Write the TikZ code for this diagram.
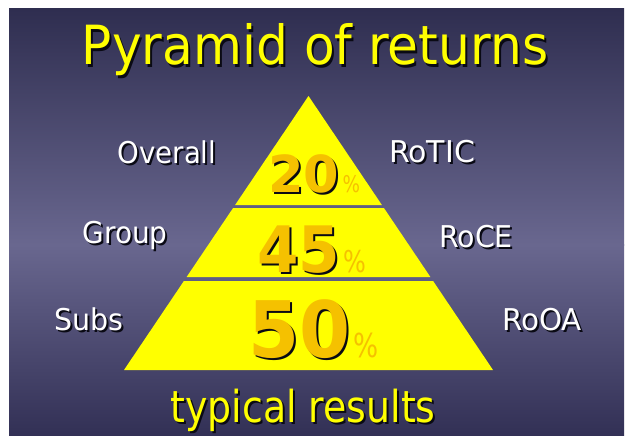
\documentclass[tikz,border=0pt]{standalone}
\usepackage{fontspec}
\setmainfont{DejaVu Sans}
\newfontfamily\boldnum{DejaVu Sans Bold}
\usepackage{graphicx}

\definecolor{bgtop}{HTML}{2F2E50}
\definecolor{bgmid}{HTML}{69678F}
\definecolor{bgbot}{HTML}{323055}
\definecolor{pyryellow}{HTML}{FFFF00}
\definecolor{titleyellow}{HTML}{FFFF00}
\definecolor{numorange}{HTML}{F5C100}
\definecolor{dropshade}{HTML}{0A0A14}

% horizontal squeeze of a piece of text
\newcommand{\sqz}[2]{\scalebox{#1}[1]{#2}}
% text with a drop shadow below and to the right, set in one box
\newcommand{\withshadow}[1]{%
  \makebox[0pt][l]{\hspace*{2pt}\raisebox{-2pt}{\color{dropshade}#1}}#1}

\begin{document}
\begin{tikzpicture}[x=1pt, y=-1pt,
  heading/.style={text=titleyellow, inner sep=0pt, anchor=base},
  sidelabel/.style={text=white, inner sep=0pt, anchor=base,
                    font=\fontsize{30}{34}\selectfont},
  figure/.style={text=numorange, inner sep=0pt, anchor=base west},
  percent/.style={text=numorange, inner sep=0pt, anchor=base west},
  tier/.style={fill=pyryellow, draw=none}]

\useasboundingbox (0,0) rectangle (626,436);
\fill[white] (0,0) rectangle (626,436);

% slide background: dark at top and bottom, lighter band in the middle
\shade[top color=bgtop, bottom color=bgmid] (9,9) rectangle (624,245);
\shade[top color=bgmid, bottom color=bgbot] (9,244.5) rectangle (624,436);

% pyramid corners
\coordinate (apex) at (308.5,96);
\coordinate (t1l) at (235.1,205);  \coordinate (t1r) at (381.9,205);
\coordinate (t2tl) at (233.1,208); \coordinate (t2tr) at (383.9,208);
\coordinate (t2bl) at (186.6,277); \coordinate (t2br) at (430.4,277);
\coordinate (t3tl) at (183.9,281); \coordinate (t3tr) at (433.1,281);
\coordinate (t3bl) at (124,370);   \coordinate (t3br) at (493,370);

% the three tiers
\fill[tier] (apex) -- (t1r) -- (t1l) -- cycle;
\fill[tier] (t2tl) -- (t2tr) -- (t2br) -- (t2bl) -- cycle;
\fill[tier] (t3tl) -- (t3tr) -- (t3br) -- (t3bl) -- cycle;

% title and footer
\node[heading] (title) at (315,65)
  {\fontsize{54}{60}\selectfont\withshadow{\sqz{0.93}{Pyramid of returns}}};
\node[heading] (footer) at (303,422)
  {\fontsize{44}{50}\selectfont\withshadow{\sqz{0.86}{typical results}}};

% labels beside the tiers
\node[sidelabel] (overall) at (167,163) {\withshadow{\sqz{0.92}{Overall}}};
\node[sidelabel] (rotic)   at (432,162) {\withshadow{\sqz{1.0}{RoTIC}}};
\node[sidelabel] (group)   at (125,243) {\withshadow{\sqz{0.93}{Group}}};
\node[sidelabel] (roce)    at (476,247) {\withshadow{\sqz{0.95}{RoCE}}};
\node[sidelabel] (subs)    at (89,330)  {\withshadow{\sqz{0.95}{Subs}}};
\node[sidelabel] (rooa)    at (542,330) {\withshadow{\sqz{0.98}{RoOA}}};

% figures in the tiers
\node[figure] (n20) at (268,192)
  {\fontsize{51}{56}\boldnum\withshadow{\sqz{1.0}{20}}};
\node[percent] (p20) at ([xshift=3pt]n20.base east)
  {\fontsize{23}{26}\selectfont\sqz{0.8}{\%}};

\node[figure] (n45) at (257,272)
  {\fontsize{64}{70}\boldnum\withshadow{\sqz{0.93}{45}}};
\node[percent] (p45) at ([xshift=3pt]n45.base east)
  {\fontsize{30}{34}\selectfont\sqz{0.8}{\%}};

\node[figure] (n50) at (248,357)
  {\fontsize{78}{84}\boldnum\withshadow{\sqz{0.94}{50}}};
\node[percent] (p50) at ([xshift=3pt]n50.base east)
  {\fontsize{33}{36}\selectfont\sqz{0.8}{\%}};

\end{tikzpicture}
\end{document}
